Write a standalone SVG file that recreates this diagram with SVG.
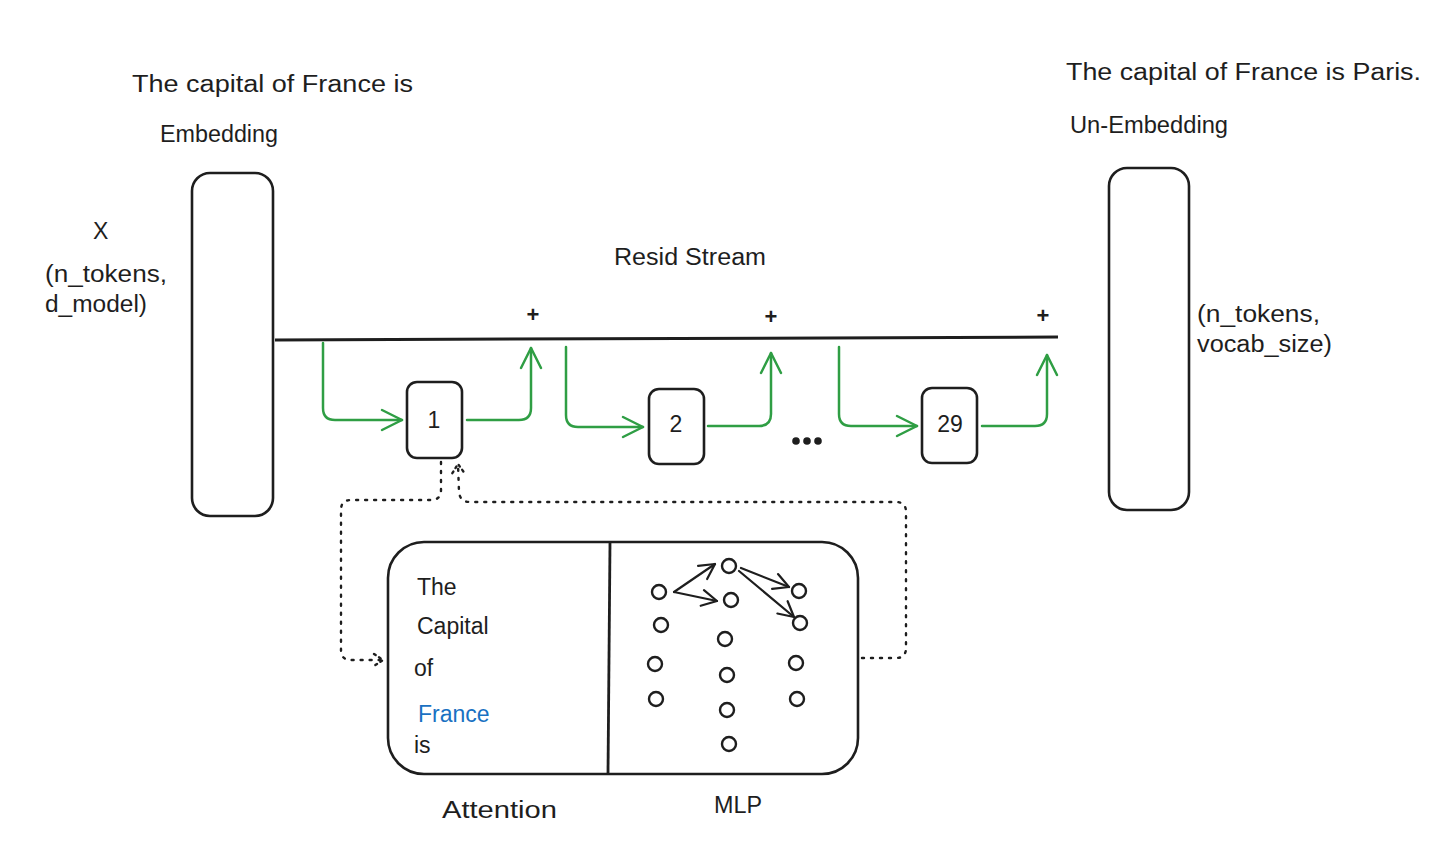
<svg xmlns="http://www.w3.org/2000/svg" width="1456" height="853" viewBox="0 0 1456 853">
<style>
text{font-family:"Liberation Sans","Noto Sans",sans-serif;fill:#1e1e1e;font-size:23px}
.box{fill:none;stroke:#1e1e1e;stroke-width:2.6}
.g{fill:none;stroke:#2f9e44;stroke-width:2.5;stroke-linecap:round;stroke-linejoin:round}
.k{fill:none;stroke:#1e1e1e;stroke-width:2.2;stroke-linecap:round;stroke-linejoin:round}
.d{fill:none;stroke:#1e1e1e;stroke-width:2.4;stroke-dasharray:2 7;stroke-linecap:round}
.c{fill:#fff;stroke:#1e1e1e;stroke-width:2.4}
.p{font-size:22px;font-weight:bold}
</style>
<defs>
<marker id="ag" markerUnits="userSpaceOnUse" viewBox="-24 -14 28 28" markerWidth="28" markerHeight="28" refX="0" refY="0" orient="auto"><path d="M-20,-10 L0,0 L-20,10" fill="none" stroke="#2f9e44" stroke-width="2.5" stroke-linecap="round" stroke-linejoin="round"/></marker>
<marker id="ak" markerUnits="userSpaceOnUse" viewBox="-20 -12 24 24" markerWidth="24" markerHeight="24" refX="0" refY="0" orient="auto"><path d="M-15,-8 L0,0 L-15,8" fill="none" stroke="#1e1e1e" stroke-width="2.2" stroke-linecap="round" stroke-linejoin="round"/></marker>
<marker id="ad" markerUnits="userSpaceOnUse" viewBox="-14 -10 18 20" markerWidth="18" markerHeight="20" refX="0" refY="0" orient="auto"><path d="M-9,-6 L0,0 L-9,6" fill="none" stroke="#1e1e1e" stroke-width="2.4" stroke-dasharray="2 4" stroke-linecap="round"/></marker>
</defs>

<g id="labels">
<text x="132" y="92" textLength="281" lengthAdjust="spacingAndGlyphs">The capital of France is</text>
<text x="160" y="142" textLength="118" lengthAdjust="spacingAndGlyphs">Embedding</text>
<text x="93" y="239">X</text>
<text x="45" y="282" textLength="122" lengthAdjust="spacingAndGlyphs">(n_tokens,</text>
<text x="45" y="312" textLength="102" lengthAdjust="spacingAndGlyphs">d_model)</text>
<text x="614" y="265" textLength="152" lengthAdjust="spacingAndGlyphs">Resid Stream</text>
<text x="1066" y="80" textLength="355" lengthAdjust="spacingAndGlyphs">The capital of France is Paris.</text>
<text x="1070" y="133" textLength="158" lengthAdjust="spacingAndGlyphs">Un-Embedding</text>
<text x="1197" y="322" textLength="123" lengthAdjust="spacingAndGlyphs">(n_tokens,</text>
<text x="1197" y="352" textLength="135" lengthAdjust="spacingAndGlyphs">vocab_size)</text>
<text class="p" x="533" y="322" text-anchor="middle">+</text>
<text class="p" x="771" y="324" text-anchor="middle">+</text>
<text class="p" x="1043" y="323" text-anchor="middle">+</text>
<text x="442" y="818" textLength="115" lengthAdjust="spacingAndGlyphs">Attention</text>
<text x="714" y="813" textLength="48" lengthAdjust="spacingAndGlyphs">MLP</text>
</g>

<g id="embedding"><rect class="box" x="192" y="173" width="81" height="343" rx="18"/></g>
<g id="unembedding"><rect class="box" x="1109" y="168" width="80" height="342" rx="18"/></g>

<g id="resid-stream"><path d="M275,340 L1058,337" fill="none" stroke="#1e1e1e" stroke-width="3"/></g>

<g id="block1"><rect class="box" x="407" y="382" width="55" height="76" rx="10"/><text x="434" y="428" text-anchor="middle" font-size="21">1</text></g>
<g id="block2"><rect class="box" x="649" y="389" width="55" height="75" rx="10"/><text x="676" y="432" text-anchor="middle" font-size="21">2</text></g>
<g id="block29"><rect class="box" x="922" y="388" width="55" height="75" rx="10"/><text x="950" y="432" text-anchor="middle" font-size="19">29</text></g>
<g id="ellipsis"><circle cx="796" cy="441" r="3.8" fill="#1e1e1e"/><circle cx="807" cy="441" r="3.8" fill="#1e1e1e"/><circle cx="818" cy="441" r="3.8" fill="#1e1e1e"/></g>

<g id="attn-mlp">
<rect class="box" x="388" y="542" width="470" height="232" rx="36"/>
<path d="M610,543 L608,773" stroke="#1e1e1e" stroke-width="2.8" fill="none"/>
<text x="417" y="595">The</text>
<text x="417" y="634">Capital</text>
<text x="414" y="676">of</text>
<text x="418" y="722" style="fill:#1971c2">France</text>
<text x="414" y="753">is</text>
<g id="mlp-nodes">
<circle class="c" cx="659" cy="592" r="7"/><circle class="c" cx="661" cy="625" r="7"/><circle class="c" cx="655" cy="664" r="7"/><circle class="c" cx="656" cy="699" r="7"/>
<circle class="c" cx="729" cy="566" r="7"/><circle class="c" cx="731" cy="600" r="7"/><circle class="c" cx="725" cy="639" r="7"/><circle class="c" cx="727" cy="675" r="7"/><circle class="c" cx="727" cy="710" r="7"/><circle class="c" cx="729" cy="744" r="7"/>
<circle class="c" cx="799" cy="591" r="7"/><circle class="c" cx="800" cy="623" r="7"/><circle class="c" cx="796" cy="663" r="7"/><circle class="c" cx="797" cy="699" r="7"/>
</g>
</g>

<g id="connectors">
<path class="g" d="M323,343 L323,408 Q323,420 335,420 L402,420" marker-end="url(#ag)"/>
<path class="g" d="M467,420 L519,420 Q531,420 531,408 L531,348" marker-end="url(#ag)"/>
<path class="g" d="M566,347 L566,415 Q566,427 578,427 L643,427" marker-end="url(#ag)"/>
<path class="g" d="M708,426 L759,426 Q771,426 771,414 L771,353" marker-end="url(#ag)"/>
<path class="g" d="M839,347 L839,414 Q839,426 851,426 L917,426" marker-end="url(#ag)"/>
<path class="g" d="M982,426 L1035,426 Q1047,426 1047,414 L1047,355" marker-end="url(#ag)"/>
<path class="k" d="M674,592 L715,564" marker-end="url(#ak)"/>
<path class="k" d="M674,592 L717,601" marker-end="url(#ak)"/>
<path class="k" d="M741,568 L789,587" marker-end="url(#ak)"/>
<path class="k" d="M739,571 L794,617" marker-end="url(#ak)"/>
<path class="d" d="M441,462 L441,490 Q441,500 431,500 L351,500 Q341,500 341,510 L341,650 Q341,660 351,660 L383,660" marker-end="url(#ad)"/>
<path class="d" d="M862,658 L896,658 Q906,658 906,648 L906,512 Q906,502 896,502 L470,502 Q460,502 459,492 L458,464" marker-end="url(#ad)"/>
</g>
</svg>
